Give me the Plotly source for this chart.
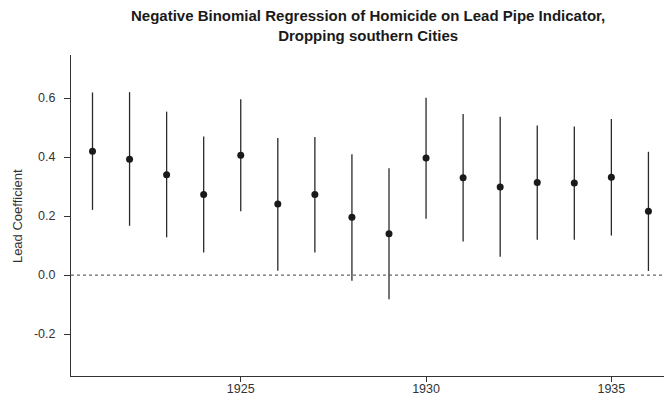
import plotly.graph_objects as go

years = [1921, 1922, 1923, 1924, 1925, 1926, 1927, 1928, 1929, 1930, 1931, 1932, 1933, 1934, 1935, 1936]
coef = [0.420, 0.393, 0.340, 0.273, 0.406, 0.241, 0.273, 0.196, 0.140, 0.397, 0.330, 0.299, 0.314, 0.312, 0.332, 0.216]
ci_upper = [0.619, 0.620, 0.554, 0.470, 0.596, 0.465, 0.468, 0.410, 0.362, 0.601, 0.546, 0.537, 0.507, 0.504, 0.529, 0.418]
ci_lower = [0.221, 0.167, 0.128, 0.077, 0.216, 0.015, 0.077, -0.019, -0.082, 0.191, 0.114, 0.062, 0.120, 0.120, 0.134, 0.014]

y_ticks = [-0.2, 0.0, 0.2, 0.4, 0.6]
y_ticklabels = ["-0.2", "0.0", "0.2", "0.4", "0.6"]
x_ticks = [1925, 1930, 1935]
x_ticklabels = ["1925", "1930", "1935"]

title_text = "<b>Negative Binomial Regression of Homicide on Lead Pipe Indicator,<br>Dropping southern Cities</b>"
y_title = "Lead Coefficient"

err_plus = [u - c for u, c in zip(ci_upper, coef)]
err_minus = [c - l for c, l in zip(coef, ci_lower)]

fig = go.Figure()
fig.add_trace(go.Scatter(
    x=years, y=coef, mode="markers",
    marker=dict(color="#1a1a1a", size=7, symbol="circle"),
    error_y=dict(type="data", symmetric=False, array=err_plus, arrayminus=err_minus,
                 width=0, thickness=1.3, color="#2a2a2a"),
    showlegend=False,
    cliponaxis=False,
))
fig.add_hline(y=0, line=dict(color="#444444", width=1, dash="dot"))

font = "Liberation Sans, Arial, sans-serif"
plot_w = 664 - 71
plot_h = 407 - 55 - 31
fig.add_annotation(
    text=title_text, xref="paper", yref="paper", x=0.5, y=1 + 9 / plot_h,
    xanchor="center", yanchor="bottom", showarrow=False,
    font=dict(family=font, size=15, color="#1a1a1a"), align="center",
)
fig.add_annotation(
    text=y_title, xref="paper", yref="y", x=-(71 - 17) / plot_w, y=0.2,
    xanchor="center", yanchor="middle", textangle=-90, showarrow=False,
    font=dict(family=font, size=13, color="#333333"),
)

fig.update_layout(
    width=664, height=407,
    margin=dict(l=71, r=0, t=55, b=31, autoexpand=False),
    paper_bgcolor="white", plot_bgcolor="white",
    font=dict(family=font, size=12, color="#333333"),
    xaxis=dict(
        range=[1920.42, 1936.42], tickvals=x_ticks, ticktext=x_ticklabels,
        showgrid=False, zeroline=False, showline=True, linecolor="#333333", linewidth=1,
        ticks="outside", ticklen=5, tickcolor="#333333", automargin=False,
        ticklabelstandoff=-4,
        tickfont=dict(size=12.5, color="#333333"),
    ),
    yaxis=dict(
        range=[-0.342, 0.746], tickvals=y_ticks, ticktext=y_ticklabels,
        showgrid=False, zeroline=False, showline=True, linecolor="#333333", linewidth=1,
        ticks="outside", ticklen=6, tickcolor="#333333", automargin=False,
        ticklabelstandoff=6,
        tickfont=dict(size=12.5, color="#333333"),
    ),
)

fig.write_html("out.html", config={"displayModeBar": False},
               post_script="document.body.style.margin='0';document.body.style.overflow='hidden';")
